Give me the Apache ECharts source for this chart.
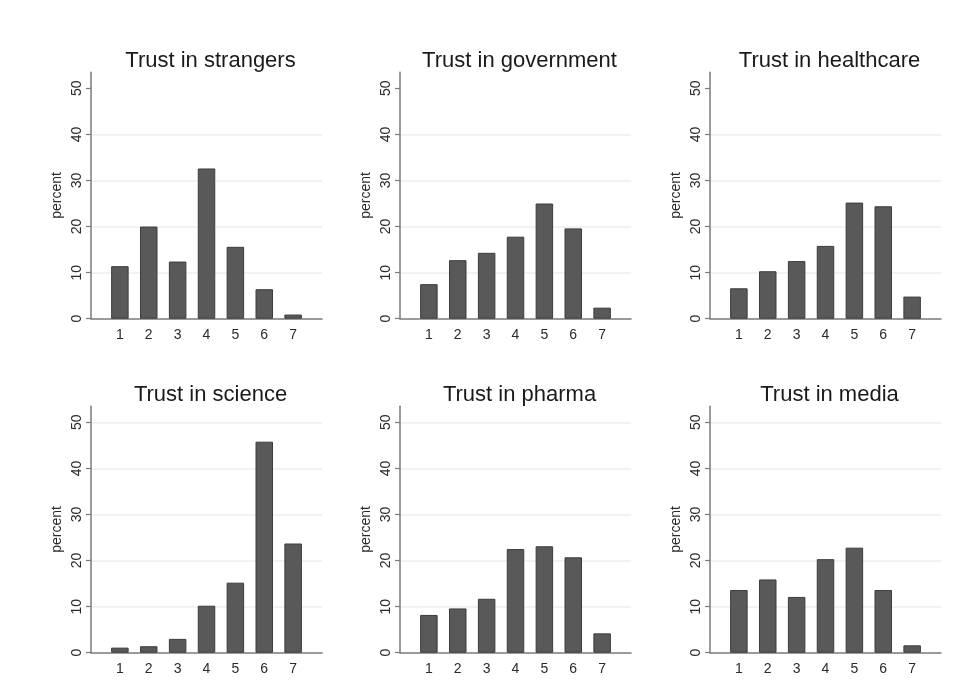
<!DOCTYPE html>
<html>
<head>
<meta charset="utf-8">
<script src="https://cdn.jsdelivr.net/npm/echarts@6/dist/echarts.min.js"></script>
<style>
html,body{margin:0;padding:0;background:#fff;}
#chart{width:977px;height:692px;}
</style>
</head>
<body>
<div id="chart"></div>
<script>
// ---- data ----
const categories = [1, 2, 3, 4, 5, 6, 7];
const titles = ["Trust in strangers", "Trust in government", "Trust in healthcare",
                "Trust in science", "Trust in pharma", "Trust in media"];
const strangers  = [11.4, 20.0, 12.4, 32.6, 15.6, 6.4, 0.9];
const government = [7.5, 12.7, 14.3, 17.8, 25.0, 19.6, 2.4];
const healthcare = [6.6, 10.3, 12.5, 15.8, 25.2, 24.4, 4.8];
const science    = [1.1, 1.4, 3.0, 10.2, 15.2, 45.8, 23.7];
const pharma     = [8.2, 9.6, 11.7, 22.5, 23.1, 20.7, 4.2];
const media      = [13.6, 15.9, 12.1, 20.3, 22.8, 13.6, 1.6];
const yTicks = [0, 10, 20, 30, 40, 50];
const gridTop = [10, 20, 30, 40];
const gridBottom = [10, 20, 30, 40, 50];

const seriesValues = [strangers, government, healthcare, science, pharma, media];

// ---- layout ----
const lefts = [91, 400, 710];
const tops = [72.2, 406.2];
const W = 231, H = 246.5;
const FONT = '"Liberation Sans", Arial, sans-serif';

const grids = [], xAxes = [], yAxes = [], series = [], titleArr = [];
for (let i = 0; i < 6; i++) {
  const col = i % 3, row = Math.floor(i / 3);
  grids.push({left: lefts[col], top: tops[row], width: W, height: H, containLabel: false});
  titleArr.push({
    text: titles[i],
    left: lefts[col] + W / 2 - 1,
    textAlign: 'center',
    top: tops[row] - 27,
    textStyle: {fontFamily: FONT, fontSize: 22, fontWeight: 'normal', color: '#1a1a1a'}
  });
  xAxes.push({
    gridIndex: i, type: 'value', min: 0, max: 8, interval: 1,
    axisLine: {show: true, lineStyle: {color: '#7a7a7a', width: 1.5}},
    axisTick: {show: false},
    splitLine: {show: false},
    axisLabel: {
      customValues: categories,
      fontFamily: FONT, fontSize: 14, color: '#2a2a2a', margin: 9
    }
  });
  yAxes.push({
    gridIndex: i, type: 'value', min: 0, max: 53.5, interval: 10,
    name: 'percent', nameLocation: 'middle', nameGap: 27, nameRotate: 90,
    nameTextStyle: {fontFamily: FONT, fontSize: 14, color: '#2a2a2a'},
    axisLine: {show: true, onZero: false, lineStyle: {color: '#7a7a7a', width: 1.5}},
    axisTick: {show: true, customValues: yTicks, length: 5, lineStyle: {color: '#7a7a7a', width: 1.2}},
    splitLine: {show: false},
    axisLabel: {
      customValues: yTicks, rotate: 90,
      fontFamily: FONT, fontSize: 14, color: '#2a2a2a', margin: 7
    }
  });
  const vals = seriesValues[i];
  const gl = row === 0 ? gridTop : gridBottom;
  series.push({
    type: 'bar', xAxisIndex: i, yAxisIndex: i,
    data: categories.map((c, k) => [c, vals[k]]),
    barWidth: 17.5,
    itemStyle: {color: '#595959', borderColor: '#3c3c3c', borderWidth: 1},
    silent: true,
    markLine: {
      silent: true, symbol: 'none', label: {show: false},
      lineStyle: {color: '#eeeeee', width: 1.5, type: 'solid'},
      z: 0,
      data: gl.map(v => ({yAxis: v}))
    },
    z: 2
  });
}

const chart = echarts.init(document.getElementById('chart'), null, {renderer: 'canvas'});
chart.setOption({
  backgroundColor: '#ffffff',
  animation: false,
  title: titleArr,
  grid: grids,
  xAxis: xAxes,
  yAxis: yAxes,
  series: series
});
</script>
</body>
</html>
